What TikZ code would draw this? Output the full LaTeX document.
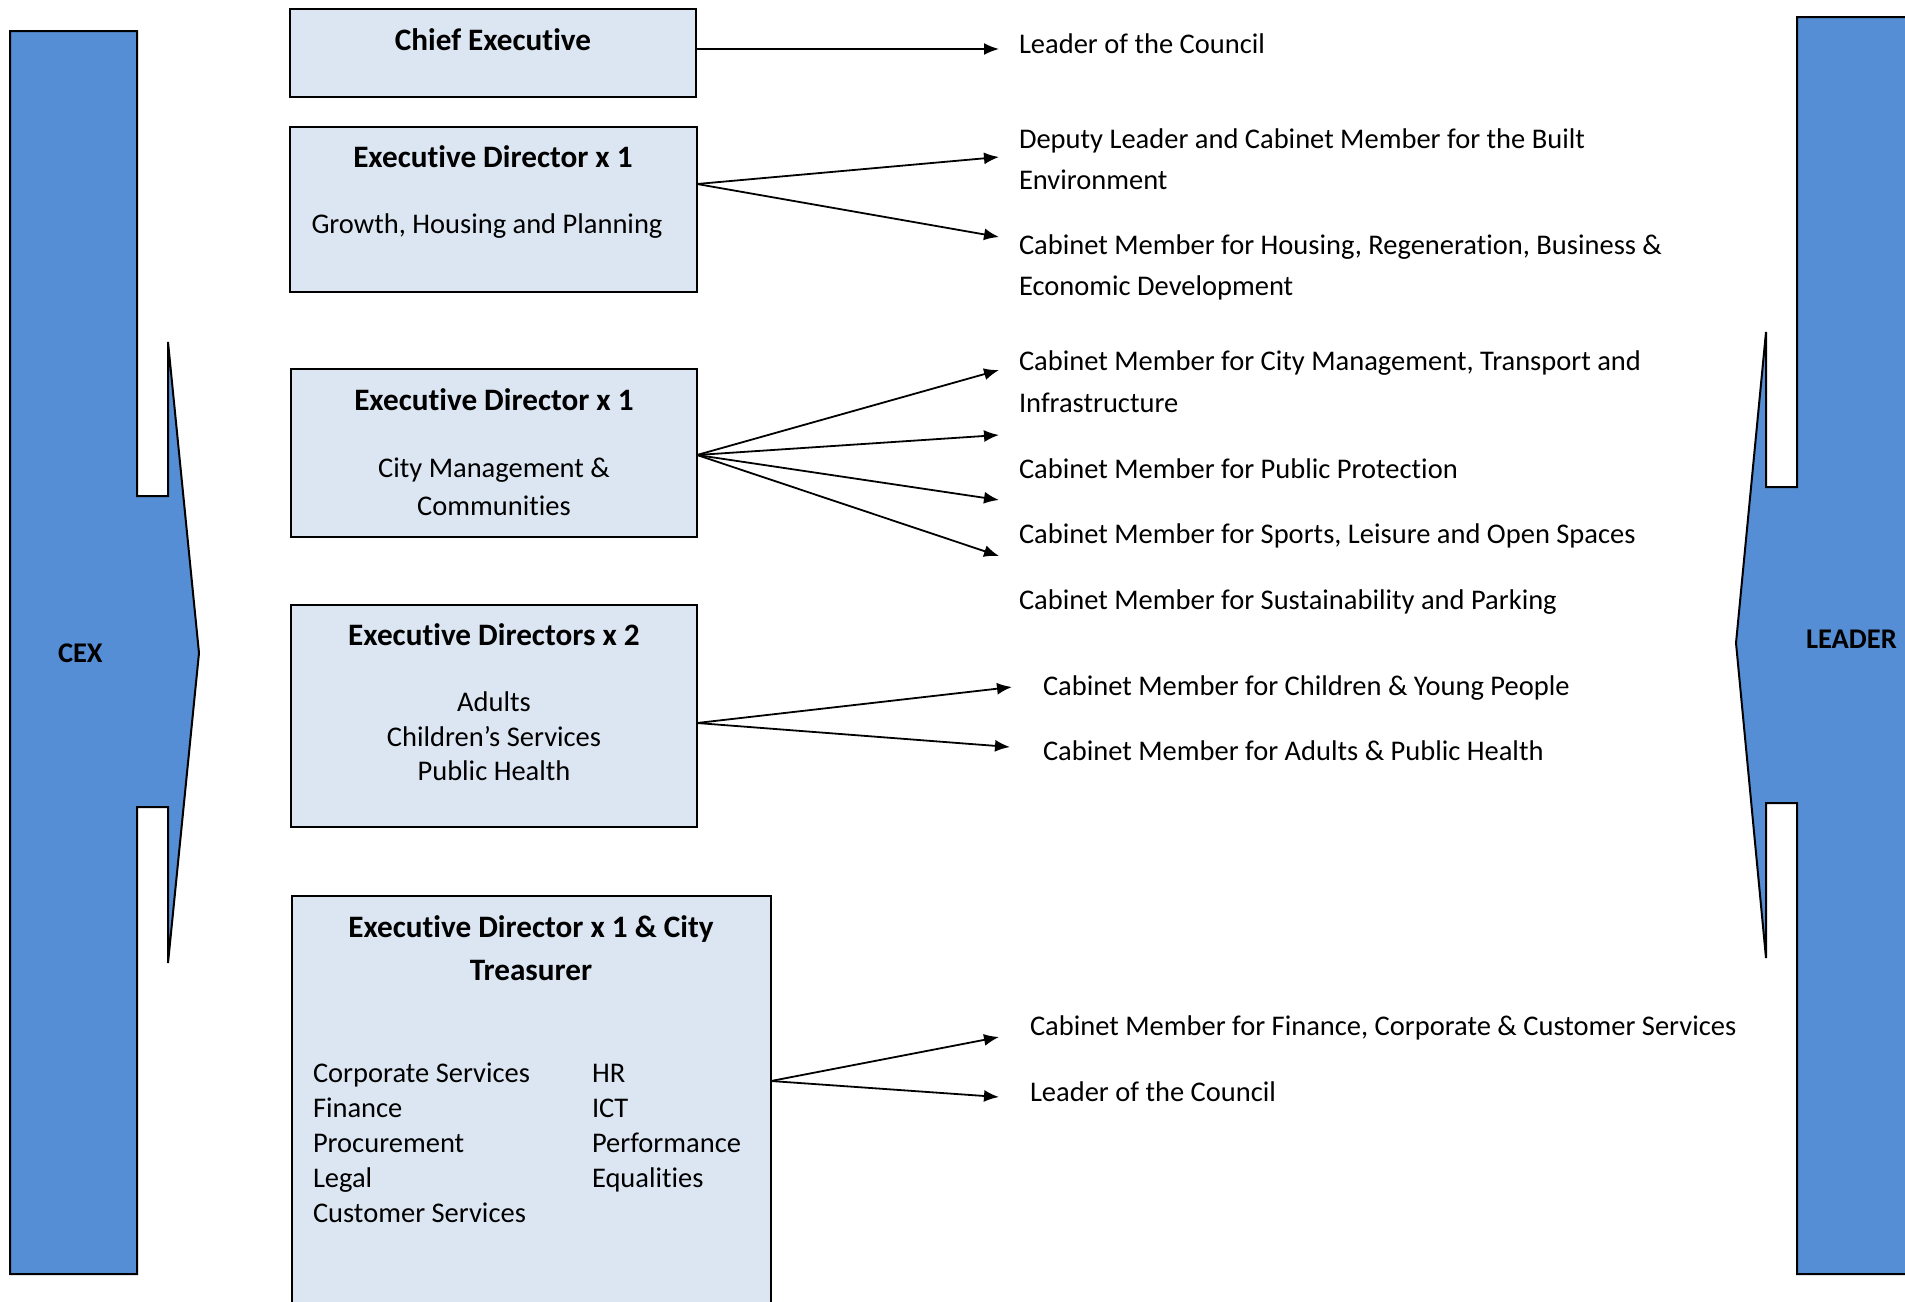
\documentclass[tikz,border=0pt]{standalone}
\usepackage{fontspec}
\setmainfont{Carlito}[Ligatures={NoCommon,NoContextual}]
\usetikzlibrary{arrows.meta}
\definecolor{boxfill}{HTML}{DCE6F2}
\definecolor{arrowblue}{HTML}{558ED5}
\begin{document}
\begin{tikzpicture}[x=1pt,y=-1pt,
  every node/.style={inner sep=0pt, outer sep=0pt},
  txt/.style={font=\fontsize{28.5}{40}\selectfont},
  btxt/.style={font=\fontsize{31.2}{40}\selectfont\bfseries},
  sidetxt/.style={font=\fontsize{28.5}{40}\selectfont\bfseries},
  orgbox/.style={draw=black, line width=2pt, fill=boxfill, anchor=north west},
  bigarrow/.style={draw=black, line width=2pt, fill=arrowblue, line join=miter},
  conn/.style={draw=black, line width=1.8pt, -{Latex[length=15pt,width=12pt]}}
]
\clip (0,0) rectangle (1905,1301);
\fill[white] (0,0) rectangle (1905,1301);

% big side arrows
\draw[bigarrow] (10,31) -- (137,31) -- (137,496) -- (168,496) -- (168,342) -- (199,653)
  -- (168,963) -- (168,807) -- (137,807) -- (137,1274) -- (10,1274) -- cycle;
\draw[bigarrow] (1925,17) -- (1797,17) -- (1797,487) -- (1766,487) -- (1766,332) -- (1736,643)
  -- (1766,958) -- (1766,803) -- (1797,803) -- (1797,1274) -- (1925,1274) -- cycle;
\node[sidetxt, anchor=base west] (cex) at (58,662) {CEX};
\node[sidetxt, anchor=base west] (leader) at (1806,648) {LEADER};

% boxes
\node[orgbox, minimum width=406pt, minimum height=88pt] (b1) at (290,9) {};
\node[orgbox, minimum width=407pt, minimum height=165pt] (b2) at (290,127) {};
\node[orgbox, minimum width=406pt, minimum height=168pt] (b3) at (291,369) {};
\node[orgbox, minimum width=406pt, minimum height=222pt] (b4) at (291,605) {};
\node[orgbox, minimum width=479pt, minimum height=440pt] (b5) at (292,896) {};

% box texts
\node[btxt, anchor=base] (t1) at (493,50) {Chief Executive};
\node[btxt, anchor=base] (t2a) at (493,167) {Executive Director x 1};
\node[txt, anchor=base] (t2b) at (487,233) {Growth, Housing and Planning};
\node[btxt, anchor=base] (t3a) at (494,410) {Executive Director x 1};
\node[txt, anchor=base] (t3b) at (494,477) {City Management \&};
\node[txt, anchor=base] (t3c) at (494,515) {Communities};
\node[btxt, anchor=base] (t4a) at (494,645) {Executive Directors x 2};
\node[txt, anchor=base] (t4b) at (494,711) {Adults};
\node[txt, anchor=base] (t4c) at (494,746) {Children’s Services};
\node[txt, anchor=base] (t4d) at (494,780) {Public Health};
\node[btxt, anchor=base] (t5a) at (531,937) {Executive Director x 1 \& City};
\node[btxt, anchor=base] (t5b) at (531,980) {Treasurer};
\node[txt, anchor=base west] (l1) at (313,1082) {Corporate Services};
\node[txt, anchor=base west] (l2) at (313,1117) {Finance};
\node[txt, anchor=base west] (l3) at (313,1152) {Procurement};
\node[txt, anchor=base west] (l4) at (313,1187) {Legal};
\node[txt, anchor=base west] (l5) at (313,1222) {Customer Services};
\node[txt, anchor=base west] (r1) at (592,1082) {HR};
\node[txt, anchor=base west] (r2) at (592,1117) {ICT};
\node[txt, anchor=base west] (r3) at (592,1152) {Performance};
\node[txt, anchor=base west] (r4) at (592,1187) {Equalities};

% member texts
\node[txt, anchor=base west] (m1) at (1019,53) {Leader of the Council};
\node[txt, anchor=base west] (m2a) at (1019,148) {Deputy Leader and Cabinet Member for the Built};
\node[txt, anchor=base west] (m2b) at (1019,189) {Environment};
\node[txt, anchor=base west] (m3a) at (1019,254) {Cabinet Member for Housing, Regeneration, Business \&};
\node[txt, anchor=base west] (m3b) at (1019,295) {Economic Development};
\node[txt, anchor=base west] (m4a) at (1019,370) {Cabinet Member for City Management, Transport and};
\node[txt, anchor=base west] (m4b) at (1019,412) {Infrastructure};
\node[txt, anchor=base west] (m5) at (1019,478) {Cabinet Member for Public Protection};
\node[txt, anchor=base west] (m6) at (1019,543) {Cabinet Member for Sports, Leisure and Open Spaces};
\node[txt, anchor=base west] (m7) at (1019,609) {Cabinet Member for Sustainability and Parking};
\node[txt, anchor=base west] (m8) at (1043,695) {Cabinet Member for Children \& Young People};
\node[txt, anchor=base west] (m9) at (1043,760) {Cabinet Member for Adults \& Public Health};
\node[txt, anchor=base west] (m10) at (1030,1035) {Cabinet Member for Finance, Corporate \& Customer Services};
\node[txt, anchor=base west] (m11) at (1030,1101) {Leader of the Council};

% connector origins and tips
\coordinate (o1) at (696,49);
\coordinate (o2) at (697,184);
\coordinate (o3) at (697,455);
\coordinate (o4) at (697,723);
\coordinate (o5) at (771,1081);
\coordinate (e1) at (999,49);
\coordinate (e2) at (999,157);
\coordinate (e3) at (999,237);
\coordinate (e4) at (999,370);
\coordinate (e5) at (999,435);
\coordinate (e6) at (999,500);
\coordinate (e7) at (999,556);
\coordinate (e8) at (1012,687);
\coordinate (e9) at (1010,747);
\coordinate (e10) at (999,1037);
\coordinate (e11) at (999,1097);

\draw[conn] (o1) -- (e1);
\draw[conn] (o2) -- (e2);
\draw[conn] (o2) -- (e3);
\draw[conn] (o3) -- (e4);
\draw[conn] (o3) -- (e5);
\draw[conn] (o3) -- (e6);
\draw[conn] (o3) -- (e7);
\draw[conn] (o4) -- (e8);
\draw[conn] (o4) -- (e9);
\draw[conn] (o5) -- (e10);
\draw[conn] (o5) -- (e11);
\end{tikzpicture}
\end{document}
